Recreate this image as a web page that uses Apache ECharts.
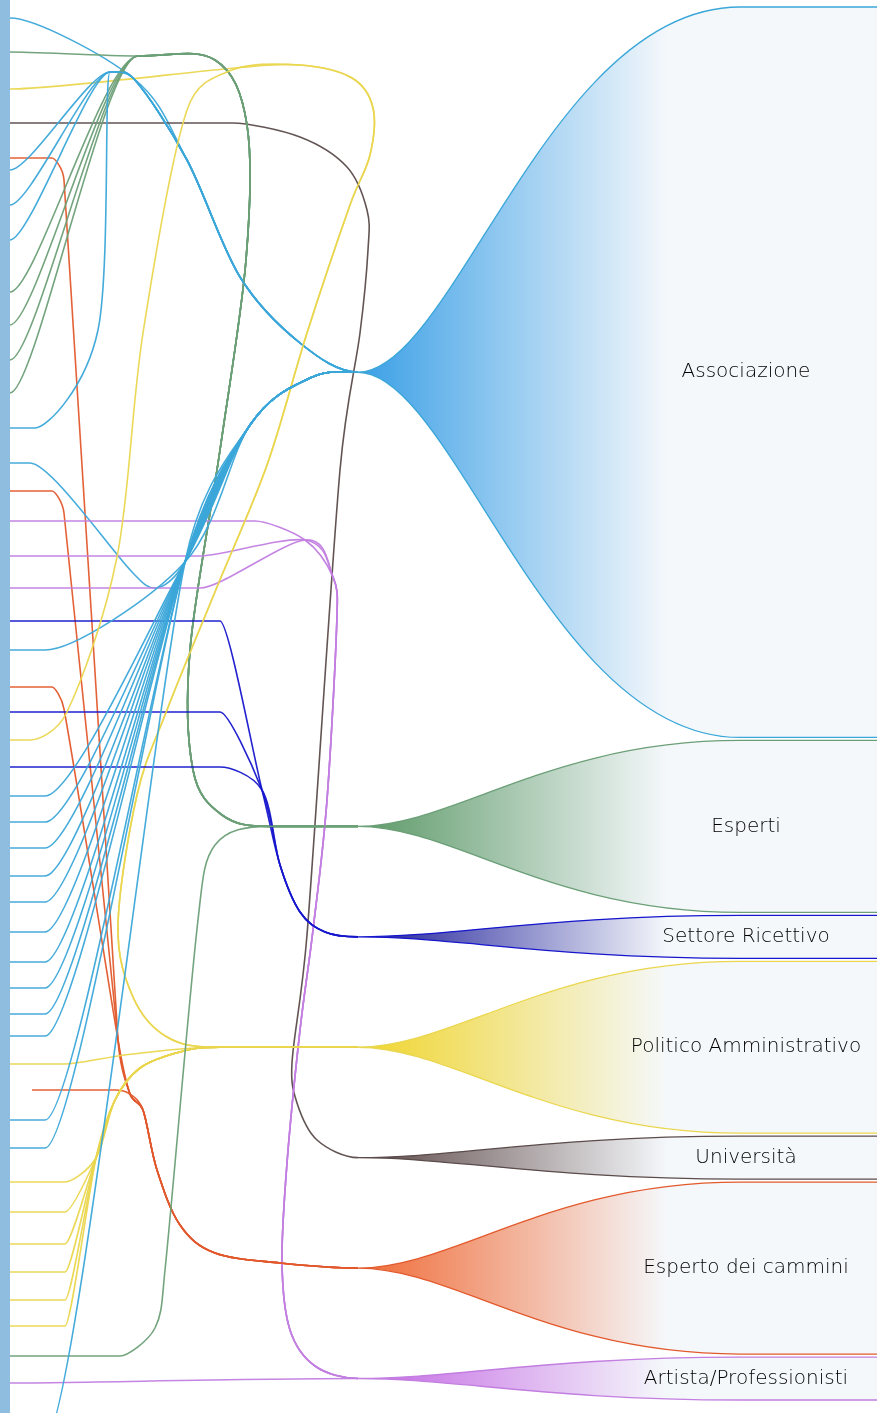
<!DOCTYPE html>
<html>
<head>
<meta charset="utf-8">
<script src="https://cdn.jsdelivr.net/npm/echarts@6/dist/echarts.min.js"></script>
<style>
  html, body { margin: 0; padding: 0; background: #fff; }
  #main { width: 877px; height: 1413px; }
</style>
</head>
<body>
<div id="main"></div>
<script>
// categorie di intervistati (a destra) e il loro peso
const categorie = ['Associazione', 'Esperti', 'Settore Ricettivo', 'Politico Amministrativo', 'Università', 'Esperto dei cammini', 'Artista/Professionisti'];
const pesi = [17, 4, 1, 4, 1, 4, 1];

// intervistati a sinistra: posizione lungo l'asse e categoria di appartenenza
const righe = [18, 52, 89, 123, 158, 170, 205, 240, 292, 325, 360, 393, 428, 463, 491, 521, 556, 588, 621, 650, 687, 712, 740, 767, 796, 822, 848, 876, 902, 932, 962, 988, 1014, 1036, 1064, 1090, 1120, 1148, 1182, 1212, 1244, 1272, 1300, 1326, 1356, 1383, 1440];
const categoriaRiga = [0, 1, 3, 4, 5, 0, 0, 0, 1, 1, 1, 1, 0, 0, 5, 6, 6, 6, 2, 0, 5, 2, 3, 2, 0, 0, 0, 0, 0, 0, 0, 0, 0, 0, 3, 5, 0, 0, 3, 3, 3, 3, 3, 3, 1, 6, 0];

// colori
const coloriLinea = ['#3ba7d9', '#6b9f77', '#1616cc', '#ead64e', '#5b4b4b', '#e2592c', '#c27ee0'];
const coloriVentaglio = ['#3a9fe6', '#5b9866', '#1a1a96', '#f0d52a', '#5a4545', '#f06a35', '#c365e3'];
const CHIARO = '#f5f8fb';

// layout (unità degli assi = pixel della pagina)
const W = 877, H = 1413;
const FAN_X = 358, FAN_END = 740, LABEL_X = 746;
const BAND_TOP = 7, BAND_BOTTOM = 1400, GAP = 3;

const totale = pesi.reduce((a, b) => a + b, 0);
const unita = (BAND_BOTTOM - BAND_TOP - GAP * (pesi.length - 1)) / totale;
let cur = BAND_TOP;
const bande = pesi.map(p => {
    const b = [cur, cur + p * unita];
    cur += p * unita + GAP;
    return b;
});
const centri = bande.map(b => (b[0] + b[1]) / 2);

// percorsi (punti guida del fascio) per ogni categoria
function percorso(y, c) {
    const yc = centri[c];
    if (c === 0) {
        const fine = [[240, 277], [300, 343]];
        if (y < 30) return { x0: 10, turn: 10, via: [[133, 78], [187, 160], ...fine] };
        if (y < 400) return { x0: 10, turn: 10, via: [[110, 72, 'h'], [135, 80], [187, 160], ...fine] };
        if (y < 450) return { x0: 10, turn: 35, via: [[98, 330], [110, 72, 'h'], [135, 80], [187, 160], ...fine] };
        const sotto = [[185, 562], [250, 425], [310, 378]];
        if (y < 500) return { x0: 10, turn: 30, via: [[133, 573], [155, 588, 'h'], ...sotto] };
        return { x0: 10, turn: 45, via: sotto };
    }
    if (c === 1) {
        if (y < 500) return { x0: 10, turn: 10, via: [[138, 56, 'h'], [215, 60], [247, 125], [246, 260], [220, 450], [190, 650], [193, 770], [222, 815], [270, yc, 'h']] };
        return { x0: 10, turn: 120, via: [[155, 1328], [165, 1270], [198, 920], [215, 845], [270, yc, 'h']] };
    }
    if (c === 2) {
        return { x0: 10, turn: 220, via: [[262, 790], [280, 865], [300, 912], [325, 932]] };
    }
    if (c === 3) {
        const anello = [[300, 65], [352, 78], [373, 108], [370, 155], [350, 205], [307, 333], [267, 465], [217, 587], [167, 710], [137, 795], [118, 925], [133, 997], [167, 1037], [220, yc, 'h']];
        if (y < 200) return { x0: 10, turn: 10, via: [[235, 68], ...anello] };
        if (y < 900) return { x0: 10, turn: 30, via: [[67, 712], [117, 557], [143, 333], [187, 110], [232, 70], ...anello] };
        if (y < 1100) return { x0: 10, turn: 65, via: [[133, 1054], [220, yc, 'h']] };
        return { x0: 10, turn: 65, via: [[96, 1158], [115, 1100], [140, 1068], [180, 1052], [220, yc, 'h']] };
    }
    if (c === 4) {
        return { x0: 10, turn: 233, via: [[300, 137], [347, 167], [367, 210], [368, 250], [360, 333], [340, 470], [307, 935], [292, 1063], [297, 1103], [317, 1140]] };
    }
    if (c === 5) {
        const coda = [[143, 1110], [157, 1170], [180, 1225], [215, 1253], [280, 1263]];
        if (y > 1050) return { x0: 32, turn: 115, via: [[130, 1094], ...coda] };
        return { x0: 10, turn: 52, via: [[64, y + 22], [118, 1040], [130, 1094], ...coda] };
    }
    // c === 6
    const discesa = [[305, 540], [333, 577], [337, 615], [327, 800], [313, 930], [300, 1030], [287, 1163], [282, 1263], [290, 1330], [315, 1366]];
    if (y > 1300) return { x0: 10, turn: 10, via: [] };
    if (y < 540) return { x0: 10, turn: 255, via: discesa };
    return { x0: 10, turn: 200, via: discesa };
}

// limita la lunghezza di un vettore di controllo
function limita(v, max) {
    const l = Math.hypot(v[0], v[1]);
    return l > max && l > 0 ? [v[0] * max / l, v[1] * max / l] : v;
}

// curva morbida (Catmull-Rom) con tangente orizzontale agli estremi
function curva(pts) {
    const n = pts.length;
    const T = pts.map((p, i) => {
        if (i === 0) return [0.6 * Math.abs(pts[1][0] - p[0]), 0];
        if (i === n - 1) return [Math.abs(p[0] - pts[n - 2][0]), 0];
        const a = pts[i - 1], b = pts[i + 1];
        if (p[2] === 'h') return [Math.abs(b[0] - a[0]) / 2, 0];
        return [(b[0] - a[0]) / 2, (b[1] - a[1]) / 2];
    });
    let d = '';
    for (let i = 0; i < n - 1; i++) {
        const p = pts[i], q = pts[i + 1];
        const L = Math.hypot(q[0] - p[0], q[1] - p[1]) * 0.5;
        const c1 = limita([T[i][0] / 3, T[i][1] / 3], L);
        const c2 = limita([T[i + 1][0] / 3, T[i + 1][1] / 3], L);
        d += ' C' + (p[0] + c1[0]) + ',' + (p[1] + c1[1]) + ' '
            + (q[0] - c2[0]) + ',' + (q[1] - c2[1]) + ' '
            + q[0] + ',' + q[1];
    }
    return d;
}

function renderLinea(params, api) {
    const y = api.value(0);
    const c = api.value(1);
    const r = percorso(y, c);
    const P = (x, yy, f) => { const pt = api.coord([x, yy]); return [pt[0], pt[1], f]; };
    const start = P(r.x0, y);
    const pts = [P(r.turn, y)];
    r.via.forEach(v => pts.push(P(v[0], v[1], v[2])));
    pts.push(P(FAN_X, centri[c]));
    let d = 'M' + start[0] + ',' + start[1];
    if (r.turn > r.x0) d += ' L' + pts[0][0] + ',' + pts[0][1];
    d += curva(pts);
    return {
        type: 'path',
        shape: { pathData: d },
        style: { fill: 'none', stroke: coloriLinea[c], lineWidth: 1.6, opacity: 0.95 }
    };
}

function renderVentaglio(params, api) {
    const i = api.value(0);
    const top = bande[i][0], bottom = bande[i][1], yc = centri[i];
    const w = FAN_END - FAN_X;
    const cA = FAN_X + 0.25 * w, cB = FAN_X + 0.5 * w;
    const P = (x, y) => api.coord([x, y]).join(',');
    const fillD = 'M' + P(FAN_X, yc)
        + ' C' + P(cA, yc) + ' ' + P(cB, top) + ' ' + P(FAN_END, top)
        + ' L' + P(W, top) + ' L' + P(W, bottom) + ' L' + P(FAN_END, bottom)
        + ' C' + P(cB, bottom) + ' ' + P(cA, yc) + ' ' + P(FAN_X, yc) + ' Z';
    const strokeD = 'M' + P(W, top) + ' L' + P(FAN_END, top)
        + ' C' + P(cB, top) + ' ' + P(cA, yc) + ' ' + P(FAN_X, yc)
        + ' C' + P(cA, yc) + ' ' + P(cB, bottom) + ' ' + P(FAN_END, bottom)
        + ' L' + P(W, bottom);
    const x0 = api.coord([FAN_X, yc])[0], x1 = api.coord([FAN_X + 310, yc])[0];
    const lab = api.coord([LABEL_X, yc]);
    return {
        type: 'group',
        children: [{
            type: 'path',
            shape: { pathData: fillD },
            style: {
                fill: new echarts.graphic.LinearGradient(x0, 0, x1, 0, [
                    { offset: 0, color: coloriVentaglio[i] },
                    { offset: 1, color: CHIARO }
                ], true),
                stroke: 'none'
            }
        }, {
            type: 'path',
            shape: { pathData: strokeD },
            style: { fill: 'none', stroke: coloriLinea[i], lineWidth: 1.3 }
        }, {
            type: 'text',
            x: lab[0], y: lab[1],
            style: {
                text: categorie[i],
                x: 0, y: 0,
                align: 'center', verticalAlign: 'middle',
                fontFamily: 'DejaVu Sans', fontWeight: 200, fontSize: 20,
                fill: '#000'
            }
        }]
    };
}

const Chart = echarts.init(document.getElementById('main'), null, { renderer: 'canvas' });

const option = {
    animation: false,
    backgroundColor: '#fff',
    grid: { left: 0, right: 0, top: 0, bottom: 0 },
    xAxis: { type: 'value', min: 0, max: W, show: false },
    yAxis: { type: 'value', min: 0, max: H, inverse: true, show: false },
    graphic: [{
        type: 'rect', left: 0, top: 0, z: 100,
        shape: { width: 10, height: H },
        style: { fill: '#8fbde0' }
    }],
    series: [{
        type: 'custom',
        name: 'categorie',
        renderItem: renderVentaglio,
        data: pesi.map((p, i) => [i, p]),
        encode: { x: -1, y: -1 },
        z: 1
    }, {
        type: 'custom',
        name: 'intervistati',
        renderItem: renderLinea,
        data: righe.map((y, i) => [y, categoriaRiga[i]]),
        encode: { y: 0 },
        clip: false,
        z: 2
    }]
};
Chart.setOption(option);
</script>
</body>
</html>
